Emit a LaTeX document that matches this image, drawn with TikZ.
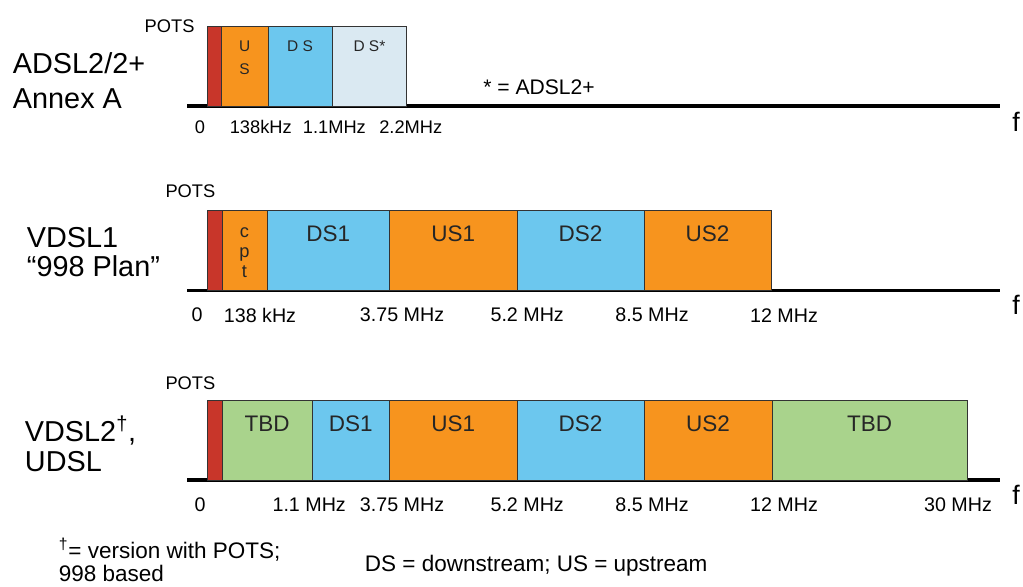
\documentclass[tikz,border=0pt]{standalone}
\usepackage{fontspec}
\setmainfont{Liberation Sans}
\usetikzlibrary{positioning}
\definecolor{potsred}{HTML}{C8362A}
\definecolor{usorange}{HTML}{F7941E}
\definecolor{dsblue}{HTML}{6CC7EE}
\definecolor{dsplus}{HTML}{DAE9F2}
\definecolor{tbdgreen}{HTML}{A9D38C}

\begin{document}
\begin{tikzpicture}[
 band/.style={draw=black!80,line width=0.6pt,inner sep=0pt,outer sep=0pt,anchor=south west,minimum height=2cm},
 axis/.style={line width=2.6pt},
 bandtxt/.style={font=\fontsize{16}{18}\selectfont,text=black!85},
 tinytxt/.style={font=\fontsize{11}{16}\selectfont,align=center,text=black!85},
 freq/.style={font=\fontsize{14}{16}\selectfont},
 potstxt/.style={font=\fontsize{13}{15}\selectfont},
 title/.style={align=left,anchor=west},
 note/.style={font=\fontsize{16}{17}\selectfont,align=left,anchor=west}]
\useasboundingbox (0,0) rectangle (25.575,14.65);
% ADSL2/2+
\begin{scope}[yshift=12cm]
 \coordinate (o1) at (4.675,0); \coordinate (e1) at (25,0);
 \draw[axis] (o1)--(e1);
 \node[font=\fontsize{19}{21}\selectfont] (f1) at (25.4,-0.4) {f};
 \foreach \a/\b/\c/\n in {5.19/5.53/potsred/pa,5.53/6.7/usorange/ua,6.7/8.3/dsblue/da,8.3/10.17/dsplus/dpa}
 {\node[band,fill=\c,minimum width={(\b-\a)*1cm}] (\n) at (\a,0) {};}
 \node[tinytxt] (ual) at ([yshift=-0.79cm]ua.north) {U\\S};
 \node[tinytxt] (dal) at ([yshift=-0.5cm]da.north) {D S};
 \node[tinytxt] (dpal) at ([yshift=-0.5cm]dpa.north) {D S*};
 \node[potstxt] (pots1) at (4.24,2.0) {POTS};
 \node[title,font=\fontsize{20.5}{25}\selectfont] (adsl) at (0.2,0.64) {ADSL2/2+\\Annex A};
 \node[note,font=\fontsize{15}{17}\selectfont,anchor=center] (star) at (13.475,0.48) {* = ADSL2+};
 \foreach \x/\t/\n in {5.0/0/ta,6.52/138kHz/tb,8.36/1.1MHz/tc,10.27/2.2MHz/td}
 {\node[freq,font=\fontsize{13}{15}\selectfont] (\n) at (\x,-0.52) {\t};}
\end{scope}
% VDSL1
\begin{scope}[yshift=7.39cm]
 \coordinate (o2) at (4.675,0); \coordinate (e2) at (25,0);
 \draw[axis] (o2)--(e2);
 \node[font=\fontsize{19}{21}\selectfont] (f2) at (25.4,-0.36) {f};
 \foreach \a/\b/\c/\t/\n in {5.175/5.55/potsred//pb,5.55/6.675/usorange//cpt,6.675/9.74/dsblue/DS1/dsa,
   9.74/12.925/usorange/US1/usa,12.925/16.1/dsblue/DS2/dsb,16.1/19.275/usorange/US2/usb}
 {\node[band,fill=\c,minimum width={(\b-\a)*1cm}] (\n) at (\a,0) {};
  \node[bandtxt] at ([yshift=-0.59cm]\n.north) {\t};}
 \node[tinytxt,font=\fontsize{13}{14.2}\selectfont] (cptl) at ([yshift=-1.05cm]cpt.north) {c\\p\\t};
 \node[potstxt] (pots2) at (4.76,2.49) {POTS};
 \node[title,font=\fontsize{20.5}{20.6}\selectfont] (vdsla) at (0.55,0.96) {VDSL1\\“998 Plan”};
 \foreach \x/\t/\n in {4.93/0/ua,6.5/138 kHz/ub,10.05/3.75 MHz/uc,13.18/5.2 MHz/ud,16.3/8.5 MHz/ue,19.6/12 MHz/uf}
 {\node[freq] (\n) at (\x,-0.62) {\t};}
\end{scope}
% VDSL2
\begin{scope}[yshift=2.65cm]
 \coordinate (o3) at (4.675,0); \coordinate (e3) at (25,0);
 \draw[axis] (o3)--(e3);
 \node[font=\fontsize{19}{21}\selectfont] (f3) at (25.4,-0.38) {f};
 \foreach \a/\b/\c/\t/\n in {5.175/5.55/potsred//pc,5.55/7.8/tbdgreen/TBD/tbda,7.8/9.74/dsblue/DS1/dsc,
   9.74/12.925/usorange/US1/usc,12.925/16.1/dsblue/DS2/dsd,16.1/19.3/usorange/US2/usd,19.3/24.175/tbdgreen/TBD/tbdb}
 {\node[band,fill=\c,minimum width={(\b-\a)*1cm}] (\n) at (\a,0) {};
  \node[bandtxt] at ([yshift=-0.59cm]\n.north) {\t};}
 \node[potstxt] (pots3) at (4.76,2.41) {POTS};
 \node[title,font=\fontsize{20.5}{21.3}\selectfont] (vdslb) at (0.5,0.9) {VDSL2\textsuperscript{†},\\UDSL};
 \foreach \x/\t/\n in {5.0/0/va,7.73/1.1 MHz/vb,10.05/3.75 MHz/vc,13.18/5.2 MHz/vd,16.3/8.5 MHz/ve,19.6/12 MHz/vf,23.95/30 MHz/vg}
 {\node[freq] (\n) at (\x,-0.62) {\t};}
\end{scope}
% footnotes
\node[note] (dag) at (1.35,0.65) {\textsuperscript{†}= version with POTS;\\998 based};
\node[note] (dsus) at (9.0,0.52) {DS = downstream; US = upstream};
\end{tikzpicture}
\end{document}
